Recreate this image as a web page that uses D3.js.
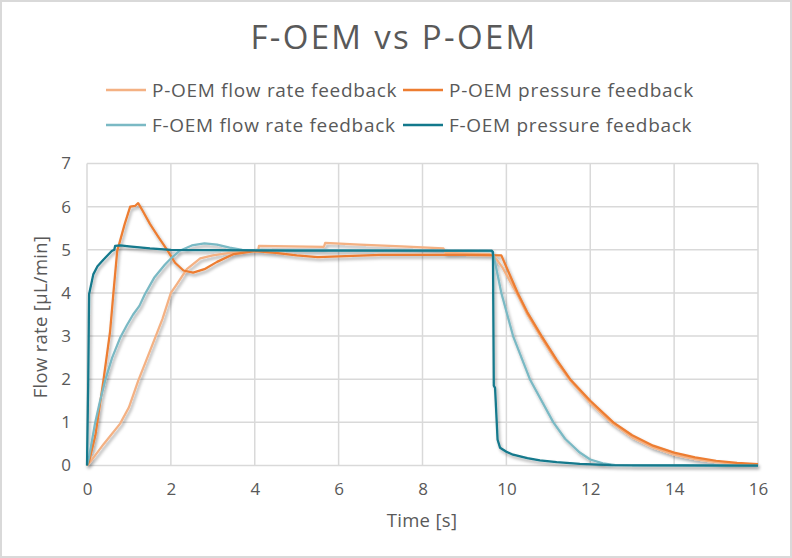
<!DOCTYPE html>
<html>
<head>
<meta charset="utf-8">
<script src="https://cdn.jsdelivr.net/npm/d3@7"></script>
<style>
  html, body { margin: 0; padding: 0; background: #fff; }
  svg text { font-family: "Open Sans", "Lato", sans-serif; fill: #595959; }
</style>
</head>
<body>
<svg id="chart" width="792" height="558"></svg>
<script>
// ---- Data ----
const chartTitle = "F-OEM vs P-OEM";
const xTicks = [0, 2, 4, 6, 8, 10, 12, 14, 16];
const yTicks = [0, 1, 2, 3, 4, 5, 6, 7];
const seriesNames = ["P-OEM flow rate feedback", "P-OEM pressure feedback", "F-OEM flow rate feedback", "F-OEM pressure feedback"];
const seriesColors = ["#f4b183", "#ed7d31", "#7ab9c4", "#13798c"];

const pFlowT = [0, 0.05, 0.4, 0.79, 1.0, 1.22, 1.5, 1.8, 2.0, 2.14, 2.38, 2.7, 3.0, 3.4, 4.0, 4.08, 4.1, 5.65, 5.68, 6.5, 7.5, 8.5, 8.55, 9.6, 9.75, 9.9, 10.1, 10.27, 10.5, 10.84, 11.2, 11.5, 12.0, 12.5, 13.0, 13.5, 14.0, 14.5, 15.0, 15.5, 16.0];
const pFlowV = [0, 0.05, 0.5, 0.97, 1.35, 1.96, 2.65, 3.4, 4.0, 4.2, 4.55, 4.8, 4.87, 4.93, 4.97, 4.97, 5.09, 5.07, 5.16, 5.12, 5.08, 5.03, 4.93, 4.9, 4.8, 4.6, 4.25, 3.95, 3.5, 2.95, 2.4, 2.0, 1.45, 1.0, 0.65, 0.42, 0.25, 0.15, 0.08, 0.04, 0.02];

const pPresT = [0, 0.05, 0.2, 0.39, 0.55, 0.63, 0.72, 0.9, 1.03, 1.15, 1.22, 1.3, 1.5, 1.7, 1.93, 2.1, 2.3, 2.53, 2.8, 3.1, 3.5, 4.0, 4.5, 5.0, 5.5, 6.0, 7.0, 8.0, 9.0, 9.88, 10.0, 10.27, 10.5, 10.84, 11.2, 11.52, 12.0, 12.55, 13.0, 13.5, 14.0, 14.5, 15.0, 15.5, 16.0];
const pPresV = [0, 0.1, 0.7, 1.96, 3.1, 4.0, 4.97, 5.6, 6.0, 6.02, 6.08, 5.95, 5.6, 5.3, 4.97, 4.7, 4.52, 4.47, 4.55, 4.72, 4.9, 4.97, 4.93, 4.87, 4.83, 4.85, 4.88, 4.88, 4.88, 4.87, 4.6, 4.0, 3.55, 3.0, 2.45, 2.0, 1.5, 1.0, 0.7, 0.46, 0.3, 0.19, 0.11, 0.06, 0.03];

const fFlowT = [0, 0.05, 0.19, 0.3, 0.43, 0.6, 0.79, 0.95, 1.1, 1.25, 1.38, 1.6, 1.86, 2.0, 2.2, 2.5, 2.8, 3.1, 3.4, 3.7, 4.5, 6.0, 8.0, 9.65, 9.7, 9.88, 10.16, 10.56, 11.12, 11.4, 11.75, 12.0, 12.3, 12.6, 13.0, 16.0];
const fFlowV = [0, 0.2, 0.97, 1.45, 1.96, 2.5, 2.96, 3.25, 3.5, 3.7, 3.97, 4.35, 4.66, 4.8, 4.97, 5.1, 5.15, 5.12, 5.05, 5.0, 4.99, 4.99, 4.98, 4.97, 4.85, 4.0, 3.0, 2.0, 1.0, 0.62, 0.3, 0.14, 0.05, 0.01, 0, 0];

const fPresT = [0, 0.03, 0.05, 0.15, 0.25, 0.39, 0.59, 0.65, 0.67, 0.8, 1.0, 1.5, 2.0, 3.0, 5.0, 7.0, 9.65, 9.68, 9.7, 9.73, 9.79, 9.85, 10.0, 10.16, 10.5, 10.8, 11.2, 11.75, 12.5, 16.0];
const fPresV = [0, 2.0, 3.97, 4.43, 4.62, 4.77, 4.97, 5.0, 5.09, 5.1, 5.08, 5.03, 5.0, 4.99, 4.98, 4.98, 4.98, 4.95, 1.85, 1.8, 0.6, 0.41, 0.32, 0.25, 0.17, 0.12, 0.08, 0.04, 0.01, 0];

const seriesT = [pFlowT, pPresT, fFlowT, fPresT];
const seriesV = [pFlowV, pPresV, fFlowV, fPresV];

// ---- Layout ----
const W = 792, H = 558;
const margin = { left: 87, right: 34, top: 163.5, bottom: 92.5 };
const svg = d3.select("#chart");

const defs = svg.append("defs");
const f = defs.append("filter").attr("id", "shadow")
  .attr("x", "-5%").attr("y", "-5%").attr("width", "110%").attr("height", "115%");
f.append("feDropShadow").attr("dx", 1.5).attr("dy", 2.5).attr("stdDeviation", 1.5)
  .attr("flood-color", "#000").attr("flood-opacity", 0.35);

// border
svg.append("rect").attr("x", 1).attr("y", 1).attr("width", W - 2).attr("height", H - 2)
  .attr("fill", "#fff").attr("stroke", "#d9d9d9").attr("stroke-width", 2);

const x = d3.scaleLinear().domain([0, 16]).range([margin.left, W - margin.right]);
const y = d3.scaleLinear().domain([0, 7]).range([H - margin.bottom, margin.top]);

// gridlines
const grid = svg.append("g");
grid.selectAll("line.v").data(xTicks).join("line")
  .attr("x1", d => x(d)).attr("x2", d => x(d))
  .attr("y1", y(0)).attr("y2", y(7))
  .attr("stroke", "#d9d9d9").attr("stroke-width", 1.5);
grid.selectAll("line.h").data(yTicks).join("line")
  .attr("y1", d => y(d)).attr("y2", d => y(d))
  .attr("x1", x(0)).attr("x2", x(16))
  .attr("stroke", "#d9d9d9").attr("stroke-width", 1.5);

// axes (labels only)
const xAxis = svg.append("g").attr("transform", `translate(0,${y(0) + 11})`)
  .call(d3.axisBottom(x).tickValues(xTicks).tickFormat(d3.format("d")).tickSize(0).tickPadding(6));
xAxis.select(".domain").remove();
xAxis.selectAll("text").style("font-size", "17px").attr("fill", "#595959");

const yAxis = svg.append("g").attr("transform", `translate(${x(0) - 16},0)`)
  .call(d3.axisLeft(y).tickValues(yTicks).tickFormat(d3.format("d")).tickSize(0).tickPadding(0));
yAxis.select(".domain").remove();
yAxis.selectAll("text").style("font-size", "17px").attr("fill", "#595959");

// lines
const line = d3.line().x(d => x(d[0])).y(d => y(d[1]));
const linesG = svg.append("g").attr("filter", "url(#shadow)");
seriesT.forEach((ts, i) => {
  const pts = ts.map((t, j) => [t, seriesV[i][j]]);
  linesG.append("path").datum(pts)
    .attr("d", line)
    .attr("fill", "none")
    .attr("stroke", seriesColors[i])
    .attr("stroke-width", 2.25)
    .attr("stroke-linejoin", "round");
});

// title
svg.append("text").attr("x", 394).attr("y", 49).attr("text-anchor", "middle")
  .style("font-size", "33px").style("letter-spacing", "2.3px").text(chartTitle);

// axis titles
svg.append("text").attr("x", 422).attr("y", 527).attr("text-anchor", "middle")
  .style("font-size", "18.5px").style("letter-spacing", "0.3px").text("Time [s]");
svg.append("text").attr("transform", "translate(47,317) rotate(-90)").attr("text-anchor", "middle")
  .style("font-size", "18.5px").style("letter-spacing", "0.3px").text("Flow rate [µL/min]");

// legend
const legendPos = [[106, 90], [403, 90], [106, 125], [403, 125]];
seriesNames.forEach((name, i) => {
  const [lx, ly] = legendPos[i];
  svg.append("line").attr("x1", lx).attr("x2", lx + 40).attr("y1", ly).attr("y2", ly)
    .attr("stroke", seriesColors[i]).attr("stroke-width", 2.5);
  svg.append("text").attr("x", lx + 46).attr("y", ly + 7)
    .style("font-size", "19px").style("letter-spacing", "0.7px").text(name);
});
</script>
</body>
</html>
